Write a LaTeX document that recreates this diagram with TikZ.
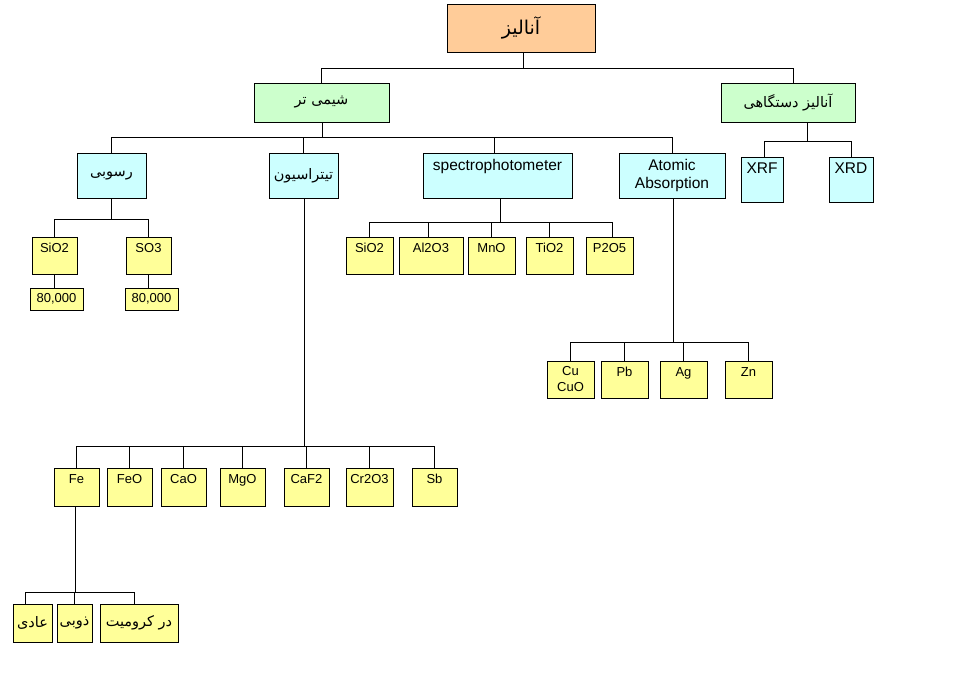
\documentclass[tikz,border=0pt]{standalone}
\usepackage{fontspec}
\setmainfont{Liberation Sans}
\newfontfamily\fa[Script=Arabic]{DejaVu Sans}
\TeXXeTstate=1

\definecolor{peach}{HTML}{FFCC99}
\definecolor{mint}{HTML}{CCFFCC}
\definecolor{aqua}{HTML}{CCFFFF}
\definecolor{lemon}{HTML}{FFFF99}

\tikzset{
  box/.style={draw, line width=0.9pt, inner sep=0pt, align=center},
  rbox/.style={box, fill=peach, font=\fa\fontsize{19}{22}\selectfont},
  gbox/.style={box, fill=mint, minimum height=39pt, font=\fa\fontsize{14.5}{17}\selectfont},
  cbox/.style={box, fill=aqua, minimum height=45pt, font=\fontsize{15.5}{18}\selectfont},
  ybox/.style={box, fill=lemon, minimum height=37pt, font=\fontsize{13}{16}\selectfont},
  top/.style={text height=#1, text depth=\pgfkeysvalueof{/pgf/minimum height}-#1},
  fabox/.style={font=\fa\fontsize{14.5}{17}\selectfont},
  link/.style={line width=0.9pt},
}

\begin{document}
\begin{tikzpicture}[x=1pt, y=-1pt]
  \useasboundingbox (0,0) rectangle (973,688);

  % top levels
  \node[rbox, minimum width=148pt, minimum height=48pt] (anal) at (521,28) {\beginR آنالیز\endR};
  \node[gbox, minimum width=135pt] (wet) at (321.5,102.5) {\beginR شیمی تر\endR};
  \node[gbox, minimum width=134pt] (inst) at (788,102.5) {\beginR آنالیز دستگاهی\endR};

  % methods
  \node[cbox, fabox, minimum width=69pt] (rasobi) at (111.5,175.5) {\beginR رسوبی\endR};
  \node[cbox, fabox, minimum width=69pt] (titr) at (303.5,175.5) {\beginR تیتراسیون\endR};
  \node[cbox, top=17pt, minimum width=149pt] (spec) at (497.5,175.5) {spectrophotometer};
  \node[cbox, minimum width=106pt] (atom) at (672,175.5) {Atomic\\Absorption};
  \node[cbox, top=16pt, minimum width=42pt] (xrf) at (762,179.5) {XRF};
  \node[cbox, top=16pt, minimum width=44pt] (xrd) at (851,179.5) {XRD};

  % gravimetric
  \node[ybox, top=15pt, minimum width=45pt] (rsio) at (54.5,255.5) {SiO2};
  \node[ybox, top=15pt, minimum width=45pt] (rso) at (148.5,255.5) {SO3};
  \node[ybox, minimum width=53pt, minimum height=22pt] (rn1) at (56.5,299) {80,000};
  \node[ybox, minimum width=53pt, minimum height=22pt] (rn2) at (151.5,299) {80,000};

  % spectrophotometer
  \node[ybox, top=15pt, minimum width=47pt] (ssio) at (369.5,255.5) {SiO2};
  \node[ybox, top=15pt, minimum width=64pt] (sal) at (431,255.5) {Al2O3};
  \node[ybox, top=15pt, minimum width=47pt] (smno) at (491.5,255.5) {MnO};
  \node[ybox, top=15pt, minimum width=47pt] (stio) at (549.5,255.5) {TiO2};
  \node[ybox, top=15pt, minimum width=47pt] (sp) at (609.5,255.5) {P2O5};

  % atomic absorption
  \node[ybox, minimum width=47pt] (cu) at (570.5,379.5) {Cu\\CuO};
  \node[ybox, top=15pt, minimum width=47pt] (pb) at (624.5,379.5) {Pb};
  \node[ybox, top=15pt, minimum width=47pt] (ag) at (683.5,379.5) {Ag};
  \node[ybox, top=15pt, minimum width=47pt] (zn) at (748.5,379.5) {Zn};

  % titration
  \node[ybox, top=15pt, minimum width=45pt, minimum height=38pt] (fe) at (76.5,487) {Fe};
  \node[ybox, top=15pt, minimum width=45pt, minimum height=38pt] (feo) at (129.5,487) {FeO};
  \node[ybox, top=15pt, minimum width=45pt, minimum height=38pt] (cao) at (183.5,487) {CaO};
  \node[ybox, top=15pt, minimum width=45pt, minimum height=38pt] (mgo) at (242.5,487) {MgO};
  \node[ybox, top=15pt, minimum width=45pt, minimum height=38pt] (caf) at (306.5,487) {CaF2};
  \node[ybox, top=15pt, minimum width=47pt, minimum height=38pt] (cro) at (369.5,487) {Cr2O3};
  \node[ybox, top=15pt, minimum width=45pt, minimum height=38pt] (sb) at (434.5,487) {Sb};

  % iron
  \node[ybox, fabox, minimum width=39pt, minimum height=38pt] (adi) at (32.5,623) {\beginR عادی\endR};
  \node[ybox, fabox, minimum width=35pt, minimum height=38pt] (zobi) at (74.5,623) {\beginR ذوبی\endR};
  \node[ybox, fabox, minimum width=78pt, minimum height=38pt] (krom) at (139,623) {\beginR در کرومیت\endR};

  % bus points
  \coordinate (j0) at (523,68);
  \coordinate (jw) at (322,137);
  \coordinate (ji) at (807,141);
  \coordinate (jr) at (111,219);
  \coordinate (js) at (500,222);
  \coordinate (ja) at (673,342);
  \coordinate (jt) at (304,446);
  \coordinate (jf) at (75,592);

  \draw[link] (anal.south -| j0) -- (j0) (j0) -| (wet.north) (j0) -| ([xshift=5pt]inst.north);
  \draw[link] (wet.south -| jw) -- (jw) (jw) -| (rasobi.north) (jw) -| (titr.north)
    (jw) -| ([xshift=-3.5pt]spec.north) (jw) -| (atom.north);
  \draw[link] (inst.south -| ji) -- (ji) (ji) -| ([xshift=2pt]xrf.north) (ji) -| (xrd.north);
  \draw[link] (rasobi.south -| jr) -- (jr) (jr) -| (rsio.north) (jr) -| (rso.north);
  \draw[link] (rsio.south) -- (rsio.south |- rn1.north);
  \draw[link] (rso.south) -- (rso.south |- rn2.north);
  \draw[link] (spec.south -| js) -- (js) (js) -| (ssio.north) (js) -| ([xshift=-3pt]sal.north)
    (js) -| (smno.north) (js) -| (stio.north) (js) -| ([xshift=2.5pt]sp.north);
  \draw[link] (atom.south -| ja) -- (ja) (ja) -| (cu.north) (ja) -| (pb.north)
    (ja) -| (ag.north) (ja) -| (zn.north);
  \draw[link] (titr.south -| jt) -- (jt) (jt) -| (fe.north) (jt) -| (feo.north) (jt) -| (cao.north)
    (jt) -| (mgo.north) (jt) -| (caf.north) (jt) -| (cro.north) (jt) -| (sb.north);
  \draw[link] (fe.south -| jf) -- (jf) (jf) -| ([xshift=-7.5pt]adi.north) (jf) -| (zobi.north)
    (jf) -| ([xshift=-5pt]krom.north);
\end{tikzpicture}
\end{document}
